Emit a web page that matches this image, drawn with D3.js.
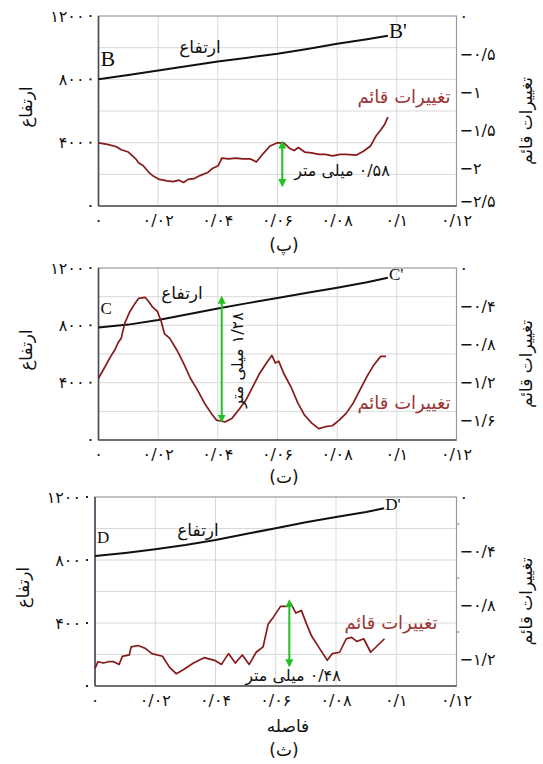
<!DOCTYPE html>
<html>
<head>
<meta charset="utf-8">
<script src="https://cdn.jsdelivr.net/npm/d3@7"></script>
<style>
  body { margin: 0; background: #fff; }
</style>
</head>
<body>
<div id="chart"></div>
<script>
// axis ticks
const xTicks = [0, 0.02, 0.04, 0.06, 0.08, 0.1, 0.12];
const elevTicks = [0, 400, 800, 1200];
const vertTicksP = [0, -0.5, -1, -1.5, -2, -2.5];
const vertTicksT = [0, -0.4, -0.8, -1.2, -1.6];
const vertTicksS = [0, -0.4, -0.8, -1.2];

// panel (پ)
const elevDistP = [0, 0.01, 0.02, 0.03, 0.04, 0.05, 0.06, 0.07, 0.08, 0.09, 0.097];
const elevP = [800, 828, 856, 884, 912, 937, 962, 992, 1025, 1053, 1075];
const vertDistP = [0, 0.003, 0.006, 0.0076, 0.010, 0.0125, 0.0134, 0.015, 0.0169, 0.0185, 0.0204, 0.023, 0.025, 0.027, 0.0285, 0.030, 0.032, 0.034, 0.0366, 0.038, 0.0401, 0.041, 0.0413, 0.0436, 0.046, 0.0483, 0.051, 0.0529, 0.0552, 0.0575, 0.0598, 0.0621, 0.064, 0.0656, 0.067, 0.0691, 0.0714, 0.074, 0.0761, 0.0784, 0.081, 0.083, 0.0865, 0.0888, 0.0912, 0.093, 0.0946, 0.096, 0.097];
const vertP = [-1.67, -1.69, -1.72, -1.76, -1.79, -1.88, -1.93, -1.97, -2.06, -2.11, -2.15, -2.17, -2.18, -2.16, -2.19, -2.15, -2.14, -2.10, -2.06, -2.01, -1.97, -1.90, -1.87, -1.88, -1.87, -1.88, -1.88, -1.92, -1.81, -1.71, -1.67, -1.67, -1.74, -1.77, -1.73, -1.79, -1.80, -1.82, -1.82, -1.84, -1.82, -1.82, -1.83, -1.78, -1.71, -1.58, -1.50, -1.42, -1.33];

// panel (ت)
const elevDistT = [0, 0.01, 0.02, 0.03, 0.04, 0.05, 0.06, 0.07, 0.08, 0.09, 0.097];
const elevT = [785, 805, 837, 878, 918, 955, 990, 1028, 1062, 1100, 1132];
const vertDistT = [0, 0.0018, 0.0041, 0.0055, 0.0065, 0.0076, 0.0088, 0.0105, 0.0123, 0.0134, 0.0157, 0.017, 0.0181, 0.0198, 0.021, 0.0221, 0.0239, 0.0262, 0.0285, 0.0308, 0.0331, 0.0355, 0.0378, 0.0395, 0.041, 0.0424, 0.0448, 0.0471, 0.0494, 0.0517, 0.054, 0.0563, 0.0581, 0.0593, 0.0604, 0.0621, 0.0645, 0.0668, 0.0691, 0.0714, 0.0738, 0.0761, 0.0784, 0.0807, 0.083, 0.0854, 0.0877, 0.09, 0.0923, 0.0946, 0.0964];
const vertT = [-1.16, -1.06, -0.93, -0.86, -0.79, -0.74, -0.58, -0.46, -0.37, -0.32, -0.31, -0.36, -0.41, -0.46, -0.56, -0.69, -0.74, -0.86, -1.00, -1.16, -1.28, -1.42, -1.53, -1.60, -1.61, -1.62, -1.58, -1.49, -1.39, -1.25, -1.11, -1.00, -0.92, -1.00, -0.98, -1.11, -1.25, -1.42, -1.55, -1.63, -1.69, -1.67, -1.66, -1.60, -1.53, -1.42, -1.28, -1.14, -1.02, -0.93, -0.93];

// panel (ث)
const elevDistS = [0, 0.01, 0.02, 0.03, 0.04, 0.05, 0.06, 0.07, 0.08, 0.09, 0.096];
const elevS = [825, 845, 868, 895, 927, 965, 1002, 1040, 1073, 1105, 1128];
const vertDistS = [0, 0.001, 0.0028, 0.0045, 0.0062, 0.008, 0.0091, 0.0114, 0.012, 0.0143, 0.0166, 0.0189, 0.0224, 0.0247, 0.027, 0.0293, 0.0327, 0.0362, 0.0397, 0.042, 0.0443, 0.0466, 0.0489, 0.0512, 0.0535, 0.0558, 0.0575, 0.0592, 0.0616, 0.0639, 0.065, 0.0667, 0.0685, 0.0702, 0.0719, 0.0742, 0.0771, 0.0788, 0.0812, 0.0834, 0.0852, 0.0869, 0.0892, 0.0915, 0.0938, 0.0961];
const vertS = [-1.27, -1.22, -1.23, -1.22, -1.22, -1.24, -1.18, -1.17, -1.11, -1.10, -1.12, -1.16, -1.18, -1.26, -1.31, -1.28, -1.23, -1.19, -1.21, -1.24, -1.16, -1.23, -1.17, -1.24, -1.15, -1.11, -0.94, -0.89, -0.81, -0.81, -0.79, -0.86, -0.84, -0.94, -1.03, -1.11, -1.21, -1.16, -1.15, -1.05, -1.04, -1.07, -1.05, -1.15, -1.10, -1.05];

// measured arrows [distance, from, to]
const arrowP = [0.0616, -1.66, -2.23];
const arrowT = [0.0413, -0.31, -1.61];
const arrowS = [0.0645, -0.77, -1.25];

const width = 543, height = 764;
const faFont = "DejaVu Sans, sans-serif";
const fa = v => String(v).replace(/[0-9]/g, d => "۰۱۲۳۴۵۶۷۸۹"[d]).replace(/\./g, "/").replace(/^-/, "−");

const svg = d3.select("#chart").append("svg")
    .attr("width", width)
    .attr("height", height)
    .style("font-family", faFont);

const defs = svg.append("defs");
defs.append("marker")
    .attr("id", "head")
    .attr("viewBox", "0 0 10 10")
    .attr("refX", 8).attr("refY", 5)
    .attr("markerWidth", 4).attr("markerHeight", 4)
    .attr("markerUnits", "strokeWidth")
    .attr("orient", "auto-start-reverse")
    .append("path")
    .attr("d", "M0,0L10,5L0,10Z")
    .attr("fill", "#1fc21f");

const panels = [
    {
        top: 16, bottom: 206, left: 98.5, right: 456.5, vDomain: [-2.5, 0], vTicks: vertTicksP, minor: [],
        elevX: elevDistP, elev: elevP, vertX: vertDistP, vert: vertP, arrow: arrowP,
        start: "B", end: "B'", title: "(پ)", titleY: 251,
        elevLabel: [200, 53], vertLabel: [404, 103],
        arrowText: "۰/۵۸ میلی متر", arrowTextPos: [342, 176], arrowRot: false
    },
    {
        top: 268, bottom: 440, left: 98.5, right: 456.5, vDomain: [-1.81, 0], vTicks: vertTicksT, minor: [],
        elevX: elevDistT, elev: elevT, vertX: vertDistT, vert: vertT, arrow: arrowT,
        start: "C", end: "C'", title: "(ت)", titleY: 483,
        elevLabel: [182, 299], vertLabel: [404, 409],
        arrowText: "۱/۲۸ میلی متر", arrowTextPos: [237, 360], arrowRot: true
    },
    {
        top: 497, bottom: 686, left: 95, right: 456.5, vDomain: [-1.4, 0], vTicks: vertTicksS, minor: [-0.2, -0.6, -1.0],
        elevX: elevDistS, elev: elevS, vertX: vertDistS, vert: vertS, arrow: arrowS,
        start: "D", end: "D'", title: "(ث)", titleY: 756,
        elevLabel: [198, 536], vertLabel: [391, 629],
        arrowText: "۰/۴۸ میلی متر", arrowTextPos: [293, 681], arrowRot: false
    }
];

panels.forEach((p, i) => {
    const x = d3.scaleLinear().domain([0, 0.12]).range([p.left, p.right]);
    const yL = d3.scaleLinear().domain([0, 1200]).range([p.bottom, p.top]);
    const yR = d3.scaleLinear().domain(p.vDomain).range([p.bottom, p.top]);
    const g = svg.append("g");

    // grid
    g.selectAll(".vgrid").data(xTicks.slice(1, -1)).join("line")
        .attr("x1", d => x(d)).attr("x2", d => x(d))
        .attr("y1", p.top).attr("y2", p.bottom)
        .attr("stroke", "#d9d9d9").attr("stroke-width", 1);
    g.selectAll(".hgrid").data([200, 400, 600, 800, 1000]).join("line")
        .attr("x1", p.left).attr("x2", p.right)
        .attr("y1", d => yL(d)).attr("y2", d => yL(d))
        .attr("stroke", "#d9d9d9").attr("stroke-width", 1);

    // frame
    g.append("rect")
        .attr("x", p.left).attr("y", p.top)
        .attr("width", p.right - p.left).attr("height", p.bottom - p.top)
        .attr("fill", "none").attr("stroke", "#9a9a9a").attr("stroke-width", 1.2);
    g.append("line").attr("x1", p.left).attr("x2", p.left).attr("y1", p.top).attr("y2", p.bottom)
        .attr("stroke", "#454b5a").attr("stroke-width", 1.6);
    g.append("line").attr("x1", p.left).attr("x2", p.right).attr("y1", p.bottom).attr("y2", p.bottom)
        .attr("stroke", "#555").attr("stroke-width", 1.4);

    // left axis
    g.selectAll(".ltick").data(elevTicks).join("rect")
        .attr("x", p.left - 9).attr("y", d => yL(d) - 1)
        .attr("width", 2).attr("height", 2).attr("fill", "#222");
    g.selectAll(".llab").data(elevTicks.filter(d => d > 0)).join("text")
        .attr("x", p.left - 14).attr("y", d => yL(d)).attr("dy", "0.35em")
        .attr("text-anchor", "end").attr("font-size", 16).attr("fill", "#111")
        .text(d => fa(d));

    // bottom axis
    g.selectAll(".xlab").data(xTicks).join("text")
        .attr("x", d => x(d)).attr("y", p.bottom + 14).attr("dy", "0.35em")
        .attr("text-anchor", "middle").attr("font-size", 16).attr("fill", "#111")
        .text(d => fa(d));

    // right axis (lowest label nudged up a little, clear of the x labels)
    g.selectAll(".rlab").data(p.vTicks).join("text")
        .attr("x", p.right + 3)
        .attr("y", d => yR(d) - (yR(d) > p.bottom - 3 ? 5 : 0)).attr("dy", "0.35em")
        .attr("text-anchor", "start").attr("font-size", 16).attr("fill", "#111")
        .text(d => fa(d));
    g.selectAll(".rminor").data(p.minor).join("line")
        .attr("x1", p.right).attr("x2", p.right + 3)
        .attr("y1", d => yR(d)).attr("y2", d => yR(d))
        .attr("stroke", "#888");

    // axis titles
    g.append("text")
        .attr("transform", `translate(${p.left - 72},${(p.top + p.bottom) / 2 - 4}) rotate(-90)`)
        .attr("text-anchor", "middle").attr("dy", "0.35em").attr("direction", "rtl")
        .attr("font-size", 17).attr("fill", "#111")
        .text("ارتفاع");
    g.append("text")
        .attr("transform", `translate(${p.right + 70},${(p.top + p.bottom) / 2 + 10}) rotate(-90)`)
        .attr("text-anchor", "middle").attr("dy", "0.35em").attr("direction", "rtl")
        .attr("font-size", 17).attr("fill", "#111")
        .text("تغییرات قائم");

    // elevation profile
    const elevLine = d3.line().x(d => x(d[0])).y(d => yL(d[1]));
    g.append("path")
        .datum(p.elevX.map((d, k) => [d, p.elev[k]]))
        .attr("d", elevLine)
        .attr("fill", "none").attr("stroke", "#111").attr("stroke-width", 2);

    // vertical change
    const vertLine = d3.line().x(d => x(d[0])).y(d => yR(d[1]));
    g.append("path")
        .datum(p.vertX.map((d, k) => [d, p.vert[k]]))
        .attr("d", vertLine)
        .attr("fill", "none").attr("stroke", "#861919").attr("stroke-width", 1.7)
        .attr("stroke-linejoin", "round");

    // arrow
    g.append("line")
        .attr("x1", x(p.arrow[0])).attr("x2", x(p.arrow[0]))
        .attr("y1", yR(p.arrow[1])).attr("y2", yR(p.arrow[2]))
        .attr("stroke", "#1fc21f").attr("stroke-width", 2)
        .attr("marker-start", "url(#head)").attr("marker-end", "url(#head)");

    // labels
    const sx = x(0), sy = yL(p.elev[0]);
    const ex = x(p.elevX[p.elevX.length - 1]), ey = yL(p.elev[p.elev.length - 1]);
    g.append("text")
        .attr("x", sx + 2).attr("y", sy - 13)
        .style("font-family", "Liberation Serif, serif").attr("font-size", i === 0 ? 22 : 17)
        .attr("fill", "#111").text(p.start);
    g.append("text")
        .attr("x", ex + 1).attr("y", ey + 2)
        .style("font-family", "Liberation Serif, serif").attr("font-size", i === 0 ? 21 : 17)
        .attr("fill", "#111").text(p.end);
    g.append("text")
        .attr("x", p.elevLabel[0]).attr("y", p.elevLabel[1])
        .attr("text-anchor", "middle").attr("direction", "rtl")
        .attr("font-size", 17).attr("fill", "#111").text("ارتفاع");
    g.append("text")
        .attr("x", p.vertLabel[0]).attr("y", p.vertLabel[1])
        .attr("text-anchor", "middle").attr("direction", "rtl")
        .attr("font-size", 18).attr("fill", "#9b3535").text("تغییرات قائم");
    g.append("text")
        .attr("transform", p.arrowRot
            ? `translate(${p.arrowTextPos[0]},${p.arrowTextPos[1]}) rotate(-90)`
            : `translate(${p.arrowTextPos[0]},${p.arrowTextPos[1]})`)
        .attr("text-anchor", "middle").attr("direction", "rtl")
        .attr("dy", p.arrowRot ? "0.35em" : 0)
        .attr("font-size", 16).attr("fill", "#111").text(p.arrowText);

    // panel caption
    g.append("text")
        .attr("x", 284).attr("y", p.titleY)
        .attr("text-anchor", "middle").attr("direction", "rtl")
        .attr("font-size", 17).attr("fill", "#111").text(p.title);
});

svg.append("text")
    .attr("x", 288).attr("y", 732)
    .attr("text-anchor", "middle").attr("direction", "rtl")
    .attr("font-size", 17).attr("fill", "#111").text("فاصله");
</script>
</body>
</html>
